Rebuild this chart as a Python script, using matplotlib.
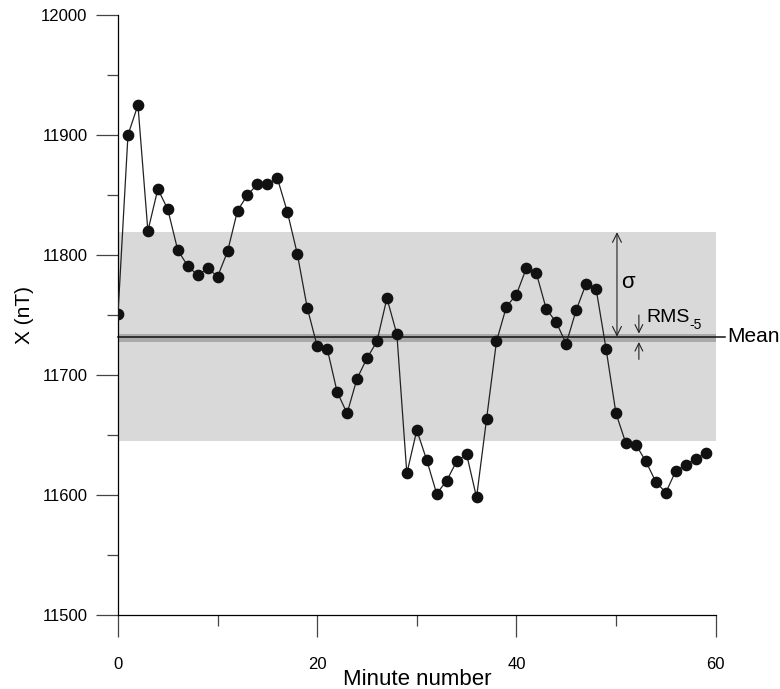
import matplotlib.pyplot as plt
import numpy as np
from matplotlib.ticker import MultipleLocator

plt.rcParams['font.family'] = ['Liberation Sans', 'DejaVu Sans']

# one-minute values of the X component
minute = np.arange(60)
x_nT = [11751, 11900, 11925, 11820, 11855, 11838, 11804, 11791, 11783, 11789,
        11782, 11803, 11837, 11850, 11859, 11859, 11864, 11836, 11801, 11756,
        11724, 11722, 11686, 11668, 11697, 11714, 11728, 11764, 11734, 11618,
        11654, 11629, 11601, 11612, 11628, 11634, 11598, 11663, 11728, 11757,
        11767, 11789, 11785, 11755, 11744, 11726, 11754, 11776, 11772, 11722,
        11668, 11643, 11642, 11628, 11611, 11602, 11620, 11625, 11630, 11635]

mean_nT = 11732.0
sigma_nT = 87.0
rms5_nT = 3.5

fig = plt.figure(figsize=(7.8, 6.89), dpi=100)
ax = fig.add_axes([0.1513, 0.1074, 0.7661, 0.8708])

# +/- sigma band and the narrow RMS band round the mean
ax.axhspan(mean_nT - sigma_nT, mean_nT + sigma_nT, color='#d9d9d9',
           lw=0, zorder=0)
ax.axhspan(mean_nT - rms5_nT - 1, mean_nT + rms5_nT - 1, color='#aaaaaa',
           lw=0, zorder=1)
ax.plot([0, 60.9], [mean_nT, mean_nT], color='#111111', lw=1.1,
        clip_on=False, zorder=2)

ax.plot(minute, x_nT, '-o', color='#222222', lw=0.9, ms=7.4,
        mfc='#111111', mec='#111111', zorder=3)

# sigma arrow
ax.annotate('', xy=(50.1, mean_nT + sigma_nT), xytext=(50.1, mean_nT),
            arrowprops=dict(arrowstyle='<->', lw=0.8, color='#222222',
                            shrinkA=0, shrinkB=0, mutation_scale=16))
ax.text(50.5, mean_nT + 45, 'σ', fontsize=16, va='center', ha='left')

# RMS arrows pointing at the band edges
ax.annotate('', xy=(52.3, mean_nT + rms5_nT - 1), xytext=(52.3, mean_nT + 18),
            arrowprops=dict(arrowstyle='->', lw=0.8, color='#222222',
                            shrinkA=0, shrinkB=0, mutation_scale=14))
ax.annotate('', xy=(52.3, mean_nT - rms5_nT - 1), xytext=(52.3, mean_nT - 19),
            arrowprops=dict(arrowstyle='->', lw=0.8, color='#222222',
                            shrinkA=0, shrinkB=0, mutation_scale=14))
ax.text(53.1, mean_nT + 16, 'RMS', fontsize=14, va='center', ha='left')
ax.text(57.4, mean_nT + 10, '-5', fontsize=10, va='center', ha='left')
ax.text(61.2, mean_nT, 'Mean', fontsize=15, va='center', ha='left',
        clip_on=False)

ax.set_xlim(0, 60)
ax.set_ylim(11500, 12000)
ax.xaxis.set_major_locator(MultipleLocator(20))
ax.xaxis.set_minor_locator(MultipleLocator(10))
ax.yaxis.set_major_locator(MultipleLocator(100))
ax.yaxis.set_minor_locator(MultipleLocator(50))
ax.tick_params(which='major', direction='out', length=16, width=0.9,
               color='#444444', labelsize=12)
ax.tick_params(axis='x', which='major', pad=14)
ax.tick_params(axis='y', which='major', pad=6)
ax.tick_params(which='minor', direction='out', length=8, width=0.9,
               color='#444444')

for side in ['top', 'right']:
    ax.spines[side].set_visible(False)
for side in ['left', 'bottom']:
    ax.spines[side].set_linewidth(0.9)

ax.set_xlabel('Minute number', fontsize=16, labelpad=-2)
ax.set_ylabel('X (nT)', fontsize=15, labelpad=5)

fig.savefig('out.png', dpi=100)
